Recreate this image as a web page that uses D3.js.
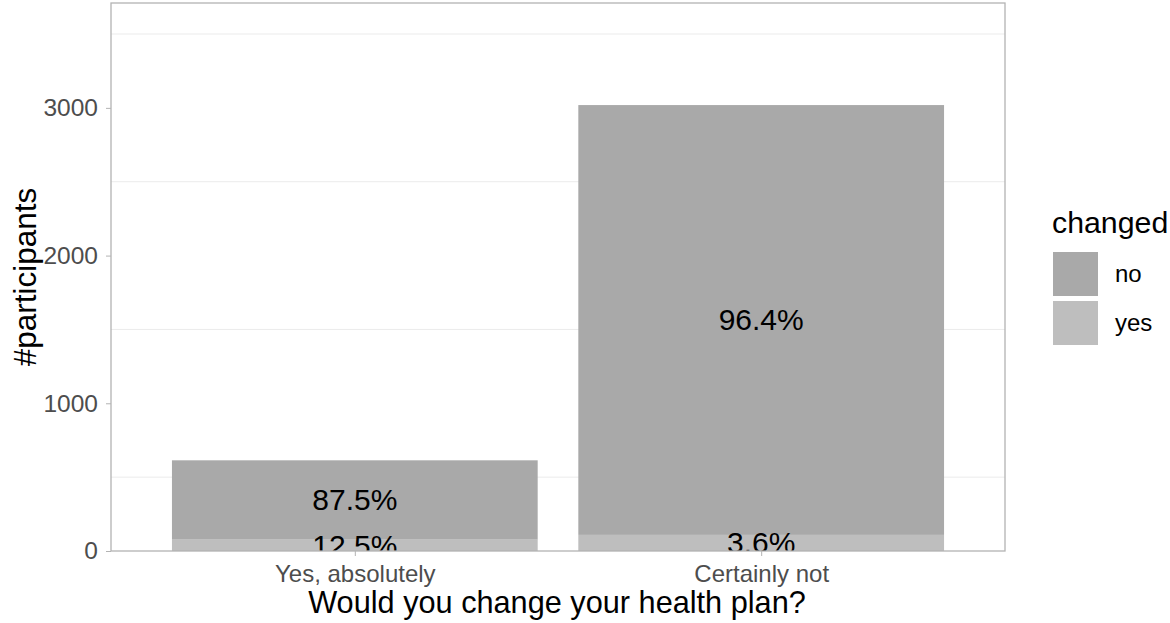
<!DOCTYPE html>
<html><head><meta charset="utf-8">
<script src="https://cdn.jsdelivr.net/npm/d3@7"></script>
<style>body{margin:0;background:#fff}svg{display:block}text{font-family:"Liberation Sans",Arial,sans-serif}</style>
</head><body><svg width="1170" height="623"></svg>
<script>
const categories = ["Yes, absolutely", "Certainly not"];
const groups = ["no", "yes"];
const noValues = [537, 2910];
const yesValues = [77, 109];
const yTicks = [0, 1000, 2000, 3000];
const yMinor = [500, 1500, 2500, 3500];
const colors = {no: "#a9a9a9", yes: "#bebebe"};

const svg = d3.select("svg");
const L = 111, R = 1005, T = 3, B = 551;
const x = d3.scaleLinear().domain([0.4, 2.6]).range([L, R]);
const y = d3.scaleLinear().domain([0, 3710]).range([B, T]);

const data = categories.map((c, i) => ({cat: c, idx: i + 1, no: noValues[i], yes: yesValues[i]}));
const stack = d3.stack().keys(["yes", "no"])(data);

const defs = svg.append("defs");
defs.append("clipPath").attr("id", "clip").append("rect")
  .attr("x", L).attr("y", T).attr("width", R - L).attr("height", B - T);

const g = svg.append("g");
g.selectAll(".gm").data(yMinor).join("line")
  .attr("x1", L).attr("x2", R).attr("y1", d => y(d)).attr("y2", d => y(d))
  .attr("stroke", "#ebebeb").attr("stroke-width", 1);

const plot = g.append("g").attr("clip-path", "url(#clip)");
const bw = 0.9;
stack.forEach(layer => {
  plot.selectAll(null).data(layer).join("rect")
    .attr("x", d => x(d.data.idx - bw / 2))
    .attr("width", d => x(d.data.idx + bw / 2) - x(d.data.idx - bw / 2))
    .attr("y", d => y(d[1]))
    .attr("height", d => y(d[0]) - y(d[1]))
    .attr("fill", colors[layer.key]);
});
stack.forEach(layer => {
  plot.selectAll(null).data(layer).join("text")
    .attr("x", d => x(d.data.idx))
    .attr("y", d => y((d[0] + d[1]) / 2))
    .attr("dy", "0.35em")
    .attr("text-anchor", "middle")
    .attr("font-size", 30)
    .attr("fill", "#000")
    .text(d => (100 * d.data[layer.key] / (d.data.no + d.data.yes)).toFixed(1) + "%");
});

g.append("rect").attr("x", L).attr("y", T).attr("width", R - L).attr("height", B - T)
  .attr("fill", "none").attr("stroke", "#b3b3b3").attr("stroke-width", 1.3);

const yAxis = g.append("g").attr("transform", `translate(${L},0)`)
  .call(d3.axisLeft(y).tickValues(yTicks).tickSize(5).tickPadding(8).tickFormat(d3.format("d")));
yAxis.select(".domain").remove();
yAxis.selectAll("line").attr("stroke", "#b3b3b3");
yAxis.selectAll("text").attr("font-size", 24.5).attr("fill", "#4d4d4d").attr("font-family", '"Liberation Sans",Arial,sans-serif');

const xAxis = g.append("g").attr("transform", `translate(0,${B})`)
  .call(d3.axisBottom(x).tickValues([1, 2]).tickSize(5).tickPadding(9).tickFormat(d => categories[d - 1]));
xAxis.select(".domain").remove();
xAxis.selectAll("line").attr("stroke", "#b3b3b3");
xAxis.selectAll("text").attr("font-size", 24).attr("fill", "#4d4d4d").attr("font-family", '"Liberation Sans",Arial,sans-serif');

svg.append("text").attr("x", 557).attr("y", 613).attr("text-anchor", "middle")
  .attr("font-size", 30.7).attr("fill", "#000").text("Would you change your health plan?");
svg.append("text").attr("transform", `translate(36,277) rotate(-90)`).attr("text-anchor", "middle")
  .attr("font-size", 31.5).attr("fill", "#000").text("#participants");

const lg = svg.append("g");
lg.append("text").attr("x", 1052).attr("y", 233).attr("font-size", 30.3).attr("fill", "#000").text("changed");
groups.forEach((k, i) => {
  lg.append("rect").attr("x", 1053).attr("y", 252 + i * 49).attr("width", 45).attr("height", 44).attr("fill", colors[k]);
  lg.append("text").attr("x", 1115).attr("y", 274 + i * 49).attr("dy", "0.35em").attr("font-size", 24).attr("fill", "#000").text(k);
});
</script></body></html>
